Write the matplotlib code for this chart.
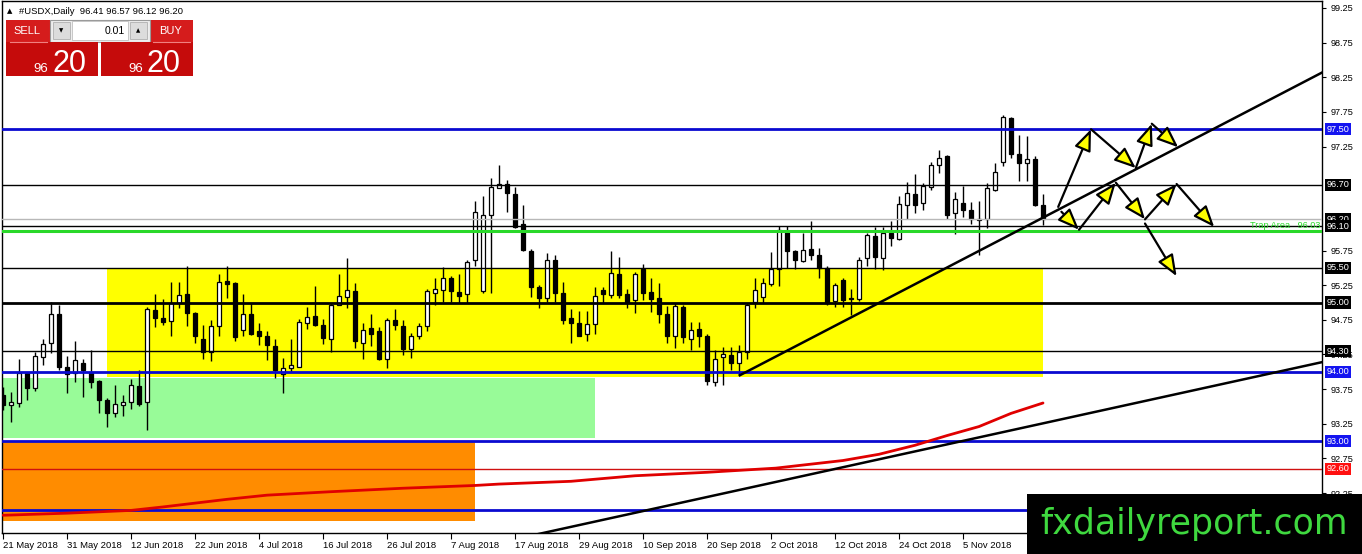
import numpy as np
import matplotlib
matplotlib.use('Agg')
import matplotlib.pyplot as plt
from matplotlib.patches import Rectangle
from matplotlib.transforms import blended_transform_factory

plt.rcParams['font.family'] = ['Liberation Sans', 'DejaVu Sans']

# ---------------- data ----------------
symbol = "#USDX,Daily"
date_labels = ["21 May 2018", "31 May 2018", "12 Jun 2018", "22 Jun 2018", "4 Jul 2018",
               "16 Jul 2018", "26 Jul 2018", "7 Aug 2018", "17 Aug 2018", "29 Aug 2018",
               "10 Sep 2018", "20 Sep 2018", "2 Oct 2018", "12 Oct 2018", "24 Oct 2018",
               "5 Nov 2018"]
label_step = 8

opens = [93.67, 93.52, 93.55, 93.98, 93.76, 94.22, 94.41, 94.84, 94.07, 93.98,
         94.13, 93.99, 93.87, 93.59, 93.40, 93.52, 93.56, 93.80, 93.56, 94.89,
         94.77, 94.74, 94.99, 95.12, 94.85, 94.48, 94.29, 94.66, 95.31, 95.28,
         94.61, 94.83, 94.59, 94.52, 94.37, 93.97, 94.05, 94.07, 94.70, 94.81,
         94.68, 94.48, 94.97, 95.08, 95.17, 94.41, 94.63, 94.59, 94.18, 94.75,
         94.66, 94.33, 94.51, 94.66, 95.14, 95.18, 95.36, 95.15, 95.12, 95.61,
         95.17, 96.27, 96.65, 96.71, 96.57, 96.13, 95.75, 95.23, 95.07, 95.62,
         95.14, 94.77, 94.70, 94.54, 94.69, 95.18, 95.11, 95.41, 95.13, 95.03,
         95.49, 95.15, 95.07, 94.84, 94.52, 94.93, 94.48, 94.62, 94.52, 93.86,
         94.21, 94.24, 94.12, 94.28, 95.01, 95.08, 95.26, 95.48, 96.03, 95.74,
         95.60, 95.77, 95.68, 95.50, 95.02, 95.33, 95.06, 95.05, 95.64, 95.96,
         95.64, 96.00, 95.91, 96.41, 96.57, 96.43, 96.66, 96.99, 97.11, 96.29,
         96.43, 96.33, 96.21, 96.20, 96.63, 97.03, 97.66, 97.15, 97.01, 97.07,
         96.41]
highs = [93.78, 93.71, 94.18, 94.00, 94.28, 94.48, 95.01, 94.96, 94.23, 94.45,
         94.19, 94.31, 93.88, 93.62, 93.81, 93.67, 93.90, 94.03, 94.93, 95.13,
         95.05, 95.29, 95.29, 95.53, 94.87, 94.68, 94.75, 95.41, 95.53, 95.30,
         95.13, 94.99, 94.70, 94.59, 94.48, 94.20, 94.47, 94.76, 94.93, 95.24,
         94.76, 94.99, 95.41, 95.64, 95.28, 94.71, 94.84, 94.65, 94.77, 94.90,
         94.75, 94.56, 94.71, 95.19, 95.36, 95.51, 95.38, 95.41, 95.61, 96.46,
         96.53, 96.79, 96.98, 96.77, 96.66, 96.41, 95.77, 95.25, 95.72, 95.69,
         95.30, 94.90, 94.88, 94.88, 95.23, 95.23, 95.75, 95.65, 95.20, 95.44,
         95.56, 95.35, 95.28, 94.95, 94.99, 94.96, 94.72, 94.72, 94.55, 94.31,
         94.36, 94.36, 94.38, 94.99, 95.36, 95.35, 95.73, 96.10, 96.10, 95.76,
         96.01, 96.17, 95.78, 95.52, 95.28, 95.36, 95.19, 95.66, 96.01, 96.09,
         96.09, 96.17, 96.53, 96.74, 96.86, 96.72, 97.03, 97.20, 97.13, 96.60,
         96.68, 96.45, 96.47, 96.73, 97.02, 97.71, 97.67, 97.42, 97.40, 97.11,
         96.57]
lows = [93.45, 93.27, 93.49, 93.59, 93.73, 94.10, 94.27, 94.02, 93.70, 93.86,
        93.64, 93.76, 93.40, 93.20, 93.35, 93.36, 93.46, 93.50, 93.16, 94.64,
        94.68, 94.51, 94.92, 94.66, 94.42, 94.19, 94.15, 94.51, 95.06, 94.45,
        94.51, 94.53, 94.39, 94.17, 93.91, 93.69, 94.00, 94.07, 94.62, 94.66,
        94.40, 94.29, 94.96, 94.92, 94.35, 94.19, 94.37, 94.17, 94.06, 94.60,
        94.24, 94.20, 94.48, 94.59, 94.97, 95.01, 95.01, 95.00, 95.00, 95.52,
        95.14, 95.14, 96.65, 96.31, 96.08, 95.75, 95.08, 94.92, 95.01, 95.01,
        94.69, 94.42, 94.51, 94.45, 94.54, 95.00, 95.06, 95.07, 94.92, 94.85,
        95.03, 94.87, 94.71, 94.42, 94.35, 94.42, 94.31, 94.36, 93.81, 93.80,
        93.81, 94.02, 93.95, 94.18, 94.92, 95.00, 95.24, 95.24, 95.50, 95.49,
        95.59, 95.62, 95.36, 94.96, 94.94, 94.94, 94.82, 95.02, 95.52, 95.49,
        95.47, 95.81, 95.90, 96.20, 96.29, 96.34, 96.62, 96.87, 96.20, 95.99,
        96.23, 96.14, 95.69, 96.07, 96.61, 96.97, 97.08, 96.75, 96.75, 96.39,
        96.12]
closes = [93.52, 93.57, 93.98, 93.76, 94.23, 94.40, 94.84, 94.07, 93.97, 94.17,
          94.02, 93.86, 93.60, 93.41, 93.54, 93.56, 93.81, 93.54, 94.90, 94.78,
          94.72, 94.99, 95.11, 94.85, 94.51, 94.29, 94.66, 95.30, 95.26, 94.50,
          94.84, 94.55, 94.52, 94.38, 94.02, 94.05, 94.10, 94.72, 94.79, 94.68,
          94.49, 94.96, 95.10, 95.18, 94.44, 94.61, 94.55, 94.19, 94.75, 94.67,
          94.33, 94.51, 94.66, 95.16, 95.19, 95.35, 95.16, 95.10, 95.59, 96.30,
          96.27, 96.66, 96.71, 96.58, 96.09, 95.76, 95.23, 95.07, 95.61, 95.14,
          94.75, 94.71, 94.52, 94.69, 95.10, 95.12, 95.42, 95.11, 95.01, 95.41,
          95.14, 95.05, 94.84, 94.52, 94.95, 94.50, 94.60, 94.52, 93.87, 94.18,
          94.25, 94.12, 94.28, 94.97, 95.18, 95.28, 95.48, 96.05, 95.75, 95.61,
          95.76, 95.68, 95.50, 95.00, 95.25, 95.04, 95.05, 95.62, 95.97, 95.65,
          96.01, 95.93, 96.42, 96.58, 96.41, 96.68, 96.98, 97.09, 96.26, 96.49,
          96.33, 96.21, 96.19, 96.65, 96.89, 97.67, 97.14, 97.02, 97.07, 96.41,
          96.20]

# moving average (read at a set of bars)
ma_bars = [0, 8, 16, 20, 28, 33, 41, 50, 59, 62, 71, 79, 88, 96.6, 105, 109.5, 114, 118, 122, 126, 130]
ma_vals = [91.93, 91.96, 92.00, 92.05, 92.16, 92.22, 92.27, 92.32, 92.36, 92.38, 92.42,
           92.50, 92.55, 92.61, 92.72, 92.81, 92.94, 93.08, 93.21, 93.40, 93.55]

# horizontal levels
levels = [97.50, 96.70, 96.20, 96.10, 96.03, 95.50, 95.00, 94.30, 94.00, 93.00, 92.60, 92.00]
level_labels = ["97.50", "96.70", "96.20", "96.10", None, "95.50", "95.00", "94.30", "94.00", "93.00", "92.60", None]
trap_label = "Trap Area   96.03"

# price-scale ticks shown (those hidden by level boxes omitted)
price_ticks = [92.25, 92.75, 93.25, 93.75, 94.25, 94.75, 95.25, 95.75, 97.25, 97.75, 98.25, 98.75, 99.25]

# zones (bar_start, bar_end, price_low, price_high)
zone_yellow = [13, 130, 93.93, 95.50]
zone_green = [-1, 74, 93.05, 93.91]
zone_orange = [-1, 59, 91.85, 92.98]

# trend lines (two anchor points each: bar, price)
trend_up_steep = [(92.1, 93.95), (164.9, 98.32)]
trend_up_long = [(67.5, 91.674), (164.9, 94.14)]

# scenario arrows (start bar, start price, end bar, end price)
arrows = [(131.9, 96.38, 136.0, 97.50), (136.0, 97.50, 141.6, 96.94),
          (141.6, 96.94, 143.6, 97.58), (143.6, 97.58, 146.9, 97.24),
          (132.3, 96.31, 134.5, 96.05), (134.5, 96.05, 139.1, 96.73),
          (139.1, 96.73, 142.75, 96.20), (142.75, 96.20, 146.7, 96.71),
          (146.7, 96.71, 151.4, 96.09), (142.75, 96.14, 146.7, 95.38)]

# ---------------- styles ----------------
BLUE = '#0a0ad0'
level_colors = [BLUE, 'black', '#b8b8b8', 'black', '#2ad82a', 'black', 'black', 'black', BLUE, BLUE, '#d01010', BLUE]
level_widths = [2.0, 1.0, 1.0, 1.0, 2.2, 1.0, 2.0, 1.0, 2.0, 2.0, 1.0, 2.0]
label_bg = ['#1414f0', 'black', 'black', 'black', None, 'black', 'black', 'black', '#1414f0', '#1414f0', '#ff1010', '#1414f0']

W, H = 1362, 554
fig = plt.figure(figsize=(W / 100, H / 100), dpi=100)
fig.patch.set_facecolor('white')

L, R, T, B = 2, 1322, 1, 533
ax = fig.add_axes([L / W, (H - B) / H, (R - L) / W, (B - T) / H])
ax.set_xlim(-0.125, 164.875)
ax.set_ylim(91.674, 99.351)
ax.set_facecolor('white')
for s in ax.spines.values():
    s.set_color('black')
    s.set_linewidth(1.0)

# zones
for z, c in [(zone_orange, '#ff8c00'), (zone_green, '#98fb98'), (zone_yellow, '#ffff00')]:
    ax.add_patch(Rectangle((z[0], z[2]), z[1] - z[0], z[3] - z[2], facecolor=c,
                           edgecolor='none', zorder=1))

# candles
x = np.arange(len(opens))
o = np.array(opens); h = np.array(highs); l = np.array(lows); c = np.array(closes)
ax.vlines(x, l, h, color='black', lw=1.0, zorder=2)
up = c >= o
body_h = np.maximum(np.abs(c - o), 0.012)
ax.bar(x, body_h, bottom=np.minimum(o, c), width=0.62,
       color=np.where(up, 'white', 'black'), edgecolor='black', linewidth=0.9, zorder=3)

# levels
for lv, col, lw in zip(levels, level_colors, level_widths):
    ax.axhline(lv, color=col, lw=lw, zorder=4)

# MA
ax.plot(ma_bars, ma_vals, color='#e00000', lw=2.0, zorder=5, solid_capstyle='round')

# trend lines
(x0, y0), (x1, y1) = trend_up_steep
ax.plot([x0, x1], [y0, y1], color='black', lw=1.8, zorder=6)
(x0, y0), (x1, y1) = trend_up_long
slope = (y1 - y0) / (x1 - x0)
ax.plot([40, x1], [y0 + (40 - x0) * slope, y1], color='black', lw=1.8, zorder=6)

# arrows
for (xa, ya, xb, yb) in arrows:
    ax.annotate('', xy=(xb, yb), xytext=(xa, ya),
                arrowprops=dict(arrowstyle='-|>,head_length=1.0,head_width=0.4',
                                mutation_scale=13, fc='#ffff00', ec='black', lw=1.6,
                                shrinkA=0, shrinkB=0), zorder=7)

# axes ticks
ax.yaxis.tick_right()
ax.set_yticks(price_ticks)
ax.set_yticklabels([f"{v:.2f}" for v in price_ticks])
ax.tick_params(axis='y', length=3, width=0.8, labelsize=6.6, pad=3, colors='black')
ax.set_xticks(np.arange(0, label_step * len(date_labels), label_step))
ax.set_xticklabels(date_labels)
ax.tick_params(axis='x', length=4, width=0.8, labelsize=6.8, pad=2)
for t in ax.get_xticklabels():
    t.set_ha('left')

# level labels on price scale
trans = blended_transform_factory(ax.transAxes, ax.transData)
for lv, lab, bg in zip(levels, level_labels, label_bg):
    if lab is None:
        continue
    ax.text(1.0035, lv, lab, transform=trans, fontsize=6.6, color='white', va='center',
            ha='left', clip_on=False, zorder=10,
            bbox=dict(boxstyle='square,pad=0.18', fc=bg, ec='none'))
ax.text(0.9985, 96.045, trap_label, transform=trans, fontsize=6.6, color='#2ad82a',
        ha='right', va='bottom', zorder=8)

# ---------------- overlay (pixel coords) ----------------
ov = fig.add_axes([0, 0, 1, 1], zorder=20)
ov.set_xlim(0, W)
ov.set_ylim(H, 0)
ov.axis('off')

# header
ov.text(10, 11, '\u25b2', fontsize=5, va='center', ha='center', family=['DejaVu Sans'])
ov.text(19, 11, f"{symbol}  {opens[-1]:.2f} {highs[-1]:.2f} {lows[-1]:.2f} {closes[-1]:.2f}",
        fontsize=6.8, va='center', ha='left')

# trade panel
red_top = '#d51c1c'
red_box = '#c50b0b'
ov.add_patch(Rectangle((6, 20), 44, 22, fc=red_top, ec='none'))
ov.add_patch(Rectangle((150, 20), 43, 22, fc=red_top, ec='none'))
ov.add_patch(Rectangle((50, 20), 100, 22, fc='#eeeeee', ec='#9a9a9a', lw=0.8))
ov.add_patch(Rectangle((53, 22), 17, 17, fc='#dcdcdc', ec='#b0b0b0', lw=0.6))
ov.add_patch(Rectangle((72, 21), 56, 19, fc='white', ec='#c0c0c0', lw=0.6))
ov.add_patch(Rectangle((130, 22), 17, 17, fc='#dcdcdc', ec='#b0b0b0', lw=0.6))
ov.add_patch(Rectangle((6, 42), 92, 34, fc=red_box, ec='none'))
ov.add_patch(Rectangle((101, 42), 92, 34, fc=red_box, ec='none'))
ov.plot([10, 47], [41.5, 41.5], color='#f08080', lw=0.8)
ov.plot([153, 190], [41.5, 41.5], color='#f08080', lw=0.8)
ov.text(27, 31, 'SELL', fontsize=8, color='white', ha='center', va='center')
ov.text(171, 31, 'BUY', fontsize=8, color='white', ha='center', va='center')
ov.text(61, 30.5, '\u25bc', fontsize=4, color='black', ha='center', va='center', family=['DejaVu Sans'])
ov.text(138.5, 30.5, '\u25b2', fontsize=4, color='black', ha='center', va='center', family=['DejaVu Sans'])
ov.text(125, 30.5, '0.01', fontsize=7.5, color='black', ha='right', va='center')
bid = f"{closes[-1]:.2f}"
big, small = bid.split('.')
for x0 in (6, 101):
    ov.text(x0 + 42, 72, big, fontsize=9.5, color='white', ha='right', va='baseline')
    ov.text(x0 + 46, 71.5, small, fontsize=22, color='white', ha='left', va='baseline')

# watermark
ov.add_patch(Rectangle((1027, 494), 335, 60, fc='black', ec='none'))
ov.text(1194, 534, 'fxdailyreport.com', fontsize=25, color='#3fd83f', ha='center',
        va='baseline', family=['DejaVu Sans'])

fig.savefig('out.png', dpi=100, facecolor='white')
